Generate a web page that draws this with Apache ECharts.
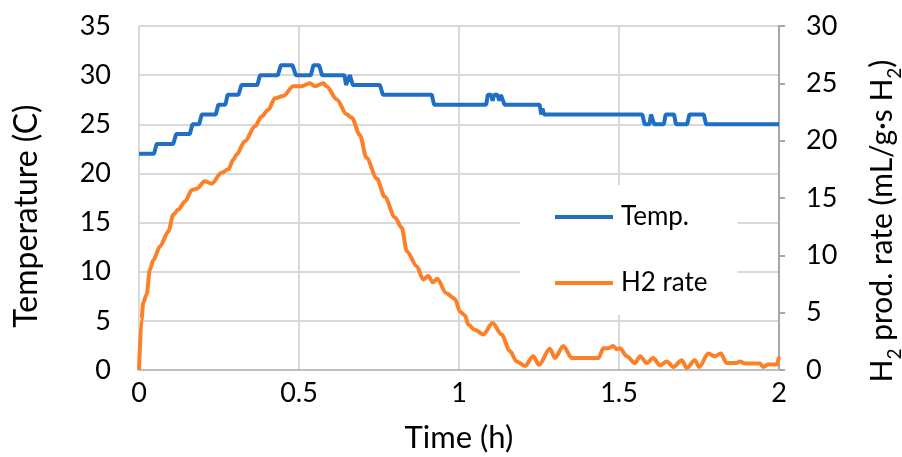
<!DOCTYPE html>
<html>
<head>
<meta charset="utf-8">
<script src="https://cdn.jsdelivr.net/npm/echarts@6/dist/echarts.min.js"></script>
<style>
    html, body { margin: 0; padding: 0; background: #fff; overflow: hidden; }
    #chart { width: 902px; height: 457px; }
</style>
</head>
<body>
<div id="chart"></div>
<script>
// time (h) and temperature (C)
var tempTime = [0, 0.047, 0.055, 0.107, 0.116, 0.159, 0.167, 0.188, 0.196, 0.24, 0.248, 0.27, 0.277,
    0.311, 0.32, 0.37, 0.378, 0.434, 0.443, 0.48, 0.49, 0.537, 0.545, 0.563, 0.572, 0.642, 0.647, 0.653,
    0.659, 0.664, 0.668, 0.753, 0.762, 0.915, 0.922, 1.085, 1.09, 1.1, 1.105, 1.11, 1.12, 1.126, 1.131,
    1.137, 1.142, 1.252, 1.257, 1.261, 1.266, 1.573, 1.58, 1.595, 1.6, 1.605, 1.61, 1.64, 1.646, 1.672,
    1.678, 1.713, 1.72, 1.765, 1.772, 2];
var tempValue = [22, 22, 23, 23, 24, 24, 25, 25, 26, 26, 27, 27, 28,
    28, 29, 29, 30, 30, 31, 31, 30, 30, 31, 31, 30, 30, 29, 29,
    30, 30, 29, 29, 28, 28, 27, 27, 28, 28, 27.4, 28, 28, 27.4, 28,
    28, 27, 27, 26, 26.6, 26, 26, 25, 25, 26, 26, 25, 25, 26, 26,
    25, 25, 26, 26, 25, 25];

// time (h) and H2 production rate (mL/g·s H2), orange line
var rateTime = [0, 0.008, 0.013, 0.024, 0.034, 0.045, 0.066, 0.092, 0.107, 0.123, 0.144, 0.165, 0.18,
    0.206, 0.227, 0.258, 0.279, 0.295, 0.305, 0.331, 0.3625, 0.383, 0.404, 0.425, 0.451, 0.482, 0.508,
    0.534, 0.55, 0.576, 0.586, 0.618, 0.649, 0.665, 0.69, 0.711, 0.743, 0.768, 0.8, 0.821, 0.837, 0.868,
    0.888, 0.904, 0.918, 0.932, 0.96, 0.9875, 1.003, 1.019, 1.029, 1.05, 1.076, 1.105, 1.133, 1.159,
    1.18, 1.206, 1.232, 1.25, 1.284, 1.3, 1.326, 1.352, 1.436, 1.451, 1.467, 1.482, 1.493, 1.503,
    1.524, 1.55, 1.566, 1.587, 1.607, 1.628, 1.649, 1.67, 1.696, 1.712, 1.737, 1.751, 1.779, 1.8,
    1.818, 1.836, 1.868, 1.878, 1.894, 1.94, 1.951, 1.966, 1.993, 2];
var rateValue = [0, 4.4, 5.85, 6.6, 8.75, 9.6, 10.8, 12.1, 13.55, 14.0, 14.7, 15.7, 15.8,
    16.45, 16.25, 17.2, 17.5, 18.35, 18.8, 19.95, 21.25, 22.1, 22.7, 23.7, 23.9, 24.75, 24.75,
    25.0, 24.75, 25.0, 24.75, 23.6, 22.3, 22.0, 20.5, 18.5, 16.7, 15.1, 13.3, 12.4, 10.35, 9.05,
    7.9, 8.2, 7.65, 7.95, 6.7, 6.2, 5.1, 4.75, 3.95, 3.5, 3.1, 4.1, 3.1, 1.65,
    0.75, 0.35, 1.2, 0.45, 1.85, 1.05, 2.1, 1.05, 1.05, 1.9, 1.9, 2.1, 1.8, 1.9,
    1.2, 0.6, 1.2, 0.6, 1.05, 0.4, 0.75, 0.27, 0.85, 0.18, 0.85, 0.27, 1.43, 1.2,
    1.43, 0.62, 0.62, 0.75, 0.56, 0.56, 0.27, 0.47, 0.47, 1.15];

var xTicks = [0, 0.5, 1, 1.5, 2];

function pairs(xs, ys) {
    var out = [];
    for (var i = 0; i < xs.length; i++) {
        out.push([xs[i], ys[i]]);
    }
    return out;
}

var font = 'Lato, "Open Sans", sans-serif';
var chart = echarts.init(document.getElementById('chart'), null, { width: 902, height: 457 });

chart.setOption({
    animation: false,
    textStyle: { fontFamily: font, color: '#000' },
    // outerBoundsMode none: v6 would otherwise shrink the grid to fit the right axis name
    grid: { left: 139, right: 123, top: 26, bottom: 87, containLabel: false, outerBoundsMode: 'none' },
    legend: {
        data: ['Temp.', 'H2 rate'],
        orient: 'vertical',
        left: 520,
        top: 185,
        padding: [19, 30, 19, 35],
        itemGap: 40,
        icon: 'rect',
        itemWidth: 58,
        itemHeight: 4,
        backgroundColor: '#fff',
        textStyle: { fontSize: 26, color: '#000', fontFamily: font, padding: [0, 0, 0, 3] }
    },
    xAxis: {
        type: 'value',
        min: 0,
        max: 2,
        interval: 0.5,
        name: 'Time (h)',
        nameLocation: 'middle',
        nameGap: 52,
        nameTextStyle: { fontSize: 31, color: '#000' },
        axisLine: { show: true, lineStyle: { color: '#bfbfbf', width: 2 } },
        axisTick: { show: false },
        axisLabel: {
            fontSize: 27, color: '#000', margin: 10,
            formatter: function (v) { return xTicks.indexOf(v) >= 0 ? String(v) : ''; }
        },
        splitLine: { show: true, lineStyle: { color: '#d9d9d9', width: 2 } }
    },
    yAxis: [
        {
            type: 'value',
            min: 0,
            max: 35,
            interval: 5,
            name: 'Temperature (C)',
            nameLocation: 'middle',
            nameGap: 96,
            nameRotate: 90,
            // extra right padding pushes the rotated title down, as in the reference
            nameTextStyle: { fontSize: 32, color: '#000', padding: [0, 36, 0, 0] },
            axisLine: { show: false },
            axisTick: { show: false },
            axisLabel: { fontSize: 27, color: '#000', margin: 28 },
            splitLine: { show: true, lineStyle: { color: '#d9d9d9', width: 2 } }
        },
        {
            type: 'value',
            min: 0,
            max: 30,
            interval: 5,
            position: 'right',
            name: 'H{sub|2} prod. rate (mL/g·s H{sub|2})',
            nameLocation: 'middle',
            nameGap: 88,
            nameRotate: 90,
            nameTextStyle: {
                fontSize: 30, color: '#000', padding: [0, 46, 0, 0],
                rich: {
                    sub: { fontSize: 19, color: '#000', fontFamily: font, verticalAlign: 'bottom', padding: [0, 0, -7, 0] }
                }
            },
            axisLine: { show: true, lineStyle: { color: '#a6a6a6', width: 2 } },
            axisTick: { show: true, inside: false, length: 6, lineStyle: { color: '#a6a6a6', width: 2 } },
            axisLabel: { fontSize: 27, color: '#000', margin: 27 },
            splitLine: { show: false }
        }
    ],
    series: [
        {
            name: 'Temp.',
            type: 'line',
            yAxisIndex: 0,
            symbol: 'none',
            color: '#1f6fc5',
            lineStyle: { color: '#1f6fc5', width: 4 },
            data: pairs(tempTime, tempValue)
        },
        {
            name: 'H2 rate',
            type: 'line',
            yAxisIndex: 1,
            symbol: 'none',
            smooth: 0.3,
            smoothMonotone: 'x',
            color: '#fd7f27',
            lineStyle: { color: '#fd7f27', width: 4 },
            data: pairs(rateTime, rateValue)
        }
    ]
});
</script>
</body>
</html>
